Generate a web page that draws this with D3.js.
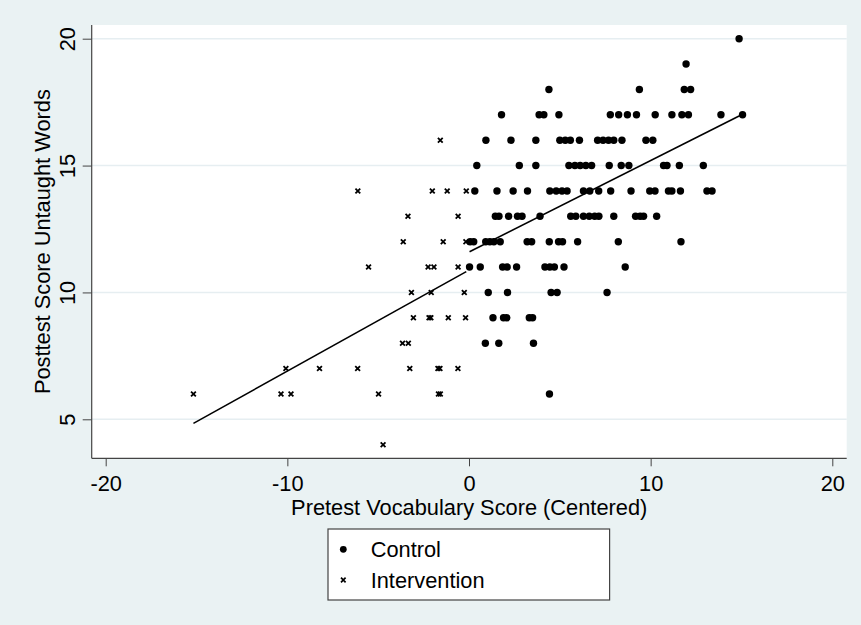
<!DOCTYPE html>
<html>
<head>
<meta charset="utf-8">
<script src="https://cdn.jsdelivr.net/npm/d3@7"></script>
<style>
  body { margin: 0; background: #eaf2f3; }
  svg { display: block; font-family: "Liberation Sans", Arial, sans-serif; }
</style>
</head>
<body>
<div id="chart"></div>
<script>
// control group: [pretest (centered), posttest untaught words]
var controlPoints = [
    [14.87, 20],
    [11.95, 19],
    [4.4, 18], [9.38, 18], [11.85, 18], [12.2, 18],
    [1.79, 17], [3.86, 17], [4.12, 17], [4.95, 17], [7.78, 17], [8.24, 17], [8.72, 17], [9.22, 17],
    [10.25, 17], [11.17, 17], [11.72, 17], [12.08, 17], [13.87, 17], [15.06, 17],
    [0.93, 16], [2.31, 16], [3.68, 16], [5.0, 16], [5.3, 16], [5.58, 16], [6.08, 16], [7.08, 16],
    [7.38, 16], [7.68, 16], [7.97, 16], [8.42, 16], [9.74, 16], [10.12, 16],
    [0.43, 15], [2.77, 15], [3.68, 15], [5.5, 15], [5.83, 15], [6.12, 15], [6.43, 15], [6.75, 15],
    [7.72, 15], [8.38, 15], [8.8, 15], [10.71, 15], [10.9, 15], [11.58, 15], [12.9, 15],
    [0.32, 14], [1.54, 14], [2.43, 14], [3.22, 14], [4.45, 14], [4.8, 14], [5.12, 14], [5.4, 14],
    [6.3, 14], [6.65, 14], [7.14, 14], [7.8, 14], [8.92, 14], [9.95, 14], [10.24, 14], [10.98, 14],
    [11.17, 14], [11.64, 14], [13.1, 14], [13.38, 14],
    [1.45, 13], [1.65, 13], [2.18, 13], [2.67, 13], [2.92, 13], [3.91, 13], [5.6, 13], [5.88, 13],
    [6.3, 13], [6.62, 13], [6.92, 13], [7.15, 13], [7.97, 13], [9.17, 13], [9.42, 13], [9.61, 13], [10.33, 13],
    [0.06, 12], [0.26, 12], [0.92, 12], [1.15, 12], [1.37, 12], [1.72, 12], [3.2, 12], [3.45, 12],
    [4.42, 12], [4.93, 12], [5.15, 12], [5.98, 12], [8.22, 12], [11.67, 12],
    [0.03, 11], [0.62, 11], [1.85, 11], [2.1, 11], [2.62, 11], [4.18, 11], [4.45, 11], [4.7, 11],
    [5.23, 11], [8.6, 11],
    [1.06, 10], [2.12, 10], [4.52, 10], [4.85, 10], [7.6, 10],
    [1.32, 9], [1.9, 9], [2.08, 9], [3.32, 9], [3.5, 9],
    [0.9, 8], [1.64, 8], [3.55, 8],
    [4.43, 6]
];

// intervention group
var interventionPoints = [
    [-1.58, 16],
    [-6.12, 14], [-2.02, 14], [-1.2, 14], [-0.15, 14],
    [-3.36, 13], [-0.6, 13],
    [-3.62, 12], [-1.42, 12], [-0.17, 12],
    [-5.53, 11], [-2.25, 11], [-1.93, 11], [-0.6, 11],
    [-3.17, 10], [-2.08, 10], [-0.26, 10],
    [-3.06, 9], [-2.2, 9], [-2.1, 9], [-1.14, 9], [-0.19, 9],
    [-3.66, 8], [-3.34, 8],
    [-10.08, 7], [-8.23, 7], [-6.13, 7], [-3.26, 7], [-1.71, 7], [-1.6, 7], [-0.61, 7],
    [-15.17, 6], [-10.35, 6], [-9.8, 6], [-4.98, 6], [-1.68, 6], [-1.58, 6],
    [-4.73, 4]
];

// fitted lines (end points)
var interventionFit = [[-15.17, 4.84], [-0.15, 10.82]];
var controlFit = [[0.03, 11.6], [15.06, 17.02]];

var xTicks = [-20, -10, 0, 10, 20];
var yTicks = [5, 10, 15, 20];
var legendLabels = ["Control", "Intervention"];

var width = 861, height = 625;
var plotLeft = 91.7, plotRight = 846.7, plotTop = 25, plotBottom = 458.3;
var fontSize = 21.8;

var svg = d3.select("#chart").append("svg")
    .attr("width", width)
    .attr("height", height);

svg.append("rect")
    .attr("width", width).attr("height", height)
    .attr("fill", "#eaf2f3");

var x = d3.scaleLinear().domain([-20, 20]).range([105.7, 832.3]);
var y = d3.scaleLinear().domain([5, 20]).range([419.3, 38.7]);

svg.append("rect")
    .attr("x", plotLeft).attr("y", plotTop)
    .attr("width", plotRight - plotLeft).attr("height", plotBottom - plotTop)
    .attr("fill", "#ffffff");

// grid lines
svg.append("g").selectAll("line").data(yTicks).enter()
    .append("line")
    .attr("x1", plotLeft).attr("x2", plotRight)
    .attr("y1", function (d) { return y(d) }).attr("y2", function (d) { return y(d) })
    .attr("stroke", "#e6eef1")
    .attr("stroke-width", 1.6);

// plain hyphen minus, like the original
var fmt = function (d) { return String(d) };

// x axis
var xAxis = svg.append("g")
    .attr("transform", "translate(0," + plotBottom + ")")
    .call(d3.axisBottom(x).tickValues(xTicks).tickSize(8).tickPadding(9).tickFormat(fmt));
xAxis.select(".domain").remove();
xAxis.selectAll("line").attr("stroke", "#444");
xAxis.selectAll("text")
    .attr("font-size", fontSize)
    .attr("font-family", "Liberation Sans, Arial, sans-serif")
    .attr("fill", "#000");

// y axis, labels rotated like stata
var yAxis = svg.append("g")
    .attr("transform", "translate(" + plotLeft + ",0)")
    .call(d3.axisLeft(y).tickValues(yTicks).tickSize(9).tickFormat(fmt));
yAxis.select(".domain").remove();
yAxis.selectAll("line").attr("stroke", "#444");
yAxis.selectAll("text")
    .attr("transform", "rotate(-90)")
    .attr("x", 0)
    .attr("y", -16.7)
    .attr("dy", 0)
    .attr("text-anchor", "middle")
    .attr("font-size", fontSize)
    .attr("font-family", "Liberation Sans, Arial, sans-serif")
    .attr("fill", "#000");

svg.append("line")
    .attr("x1", plotLeft).attr("x2", plotRight)
    .attr("y1", plotBottom).attr("y2", plotBottom)
    .attr("stroke", "#444").attr("stroke-width", 1.2);
svg.append("line")
    .attr("x1", plotLeft).attr("x2", plotLeft)
    .attr("y1", plotTop).attr("y2", plotBottom)
    .attr("stroke", "#444").attr("stroke-width", 1.2);

// axis titles
svg.append("text")
    .attr("x", (plotLeft + plotRight) / 2)
    .attr("y", 515)
    .attr("text-anchor", "middle")
    .attr("font-size", fontSize)
    .text("Pretest Vocabulary Score (Centered)");

svg.append("text")
    .attr("transform", "translate(49.5," + (plotTop + plotBottom) / 2 + ") rotate(-90)")
    .attr("text-anchor", "middle")
    .attr("font-size", fontSize)
    .text("Posttest Score Untaught Words");

// markers
var cross = function (s) {
    return "M" + (-s) + "," + (-s) + "L" + s + "," + s + "M" + (-s) + "," + s + "L" + s + "," + (-s);
};

svg.append("g").selectAll("circle").data(controlPoints).enter()
    .append("circle")
    .attr("cx", function (d) { return x(d[0]) })
    .attr("cy", function (d) { return y(d[1]) })
    .attr("r", 3.7)
    .attr("fill", "#000");

svg.append("g").selectAll("path").data(interventionPoints).enter()
    .append("path")
    .attr("transform", function (d) { return "translate(" + x(d[0]) + "," + y(d[1]) + ")" })
    .attr("d", cross(2.4))
    .attr("stroke", "#000")
    .attr("stroke-width", 1.8);

// fit lines
var line = d3.line()
    .x(function (d) { return x(d[0]) })
    .y(function (d) { return y(d[1]) });

[interventionFit, controlFit].forEach(function (f) {
    svg.append("path")
        .attr("d", line(f))
        .attr("fill", "none")
        .attr("stroke", "#000")
        .attr("stroke-width", 1.6);
});

// legend
var legend = svg.append("g");
legend.append("rect")
    .attr("x", 328).attr("y", 529)
    .attr("width", 281.6).attr("height", 71)
    .attr("fill", "#fff")
    .attr("stroke", "#444")
    .attr("stroke-width", 1.2);

legend.append("circle")
    .attr("cx", 343.3).attr("cy", 549.3)
    .attr("r", 3.4)
    .attr("fill", "#000");
legend.append("path")
    .attr("transform", "translate(343.3,580)")
    .attr("d", cross(2.3))
    .attr("stroke", "#000")
    .attr("stroke-width", 1.7);

legend.selectAll("text").data(legendLabels).enter()
    .append("text")
    .attr("x", 370.7)
    .attr("y", function (d, i) { return 557.3 + i * 31 })
    .attr("font-size", fontSize)
    .text(function (d) { return d });
</script>
</body>
</html>
